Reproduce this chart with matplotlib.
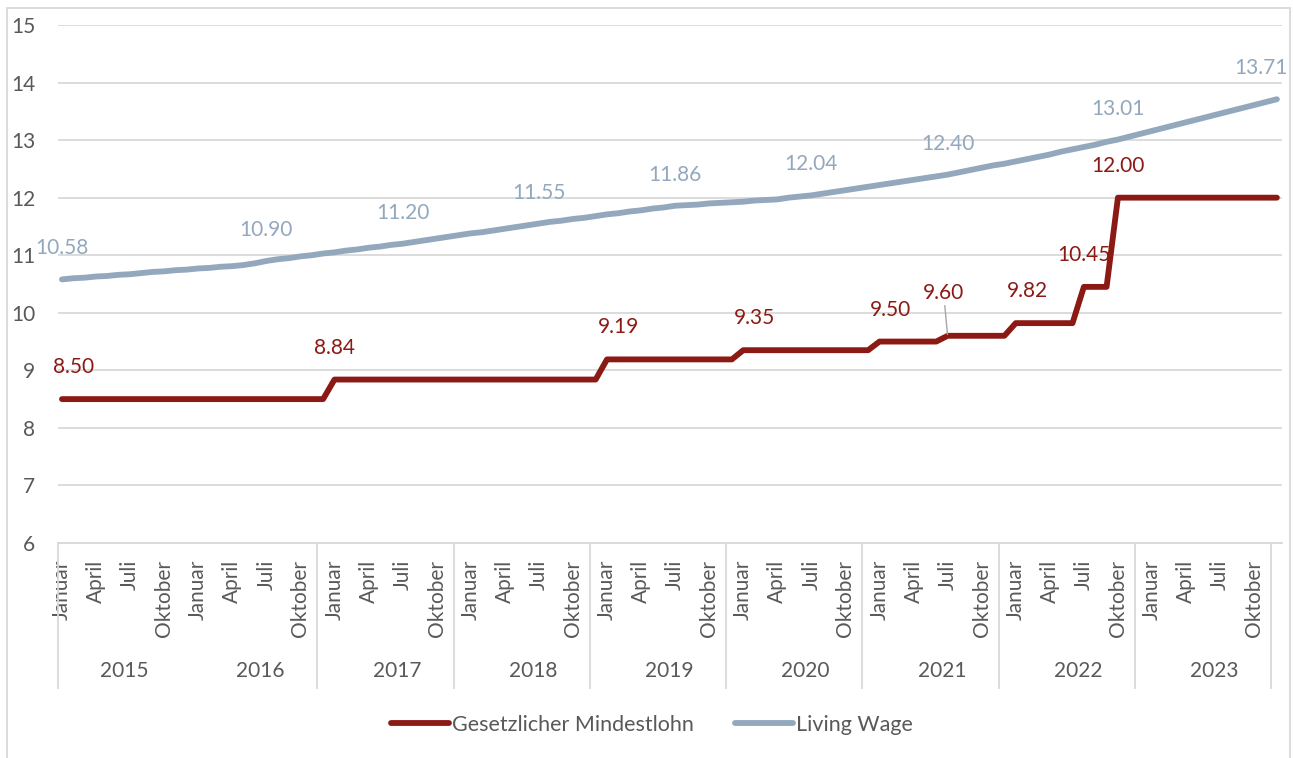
import matplotlib.pyplot as plt
from matplotlib.patches import Rectangle
import matplotlib.transforms as mtransforms


#   Settings
FONT = "Lato"
RED = "#8C1A14"
BLUE = "#93A8BD"
GRID = "#D9D9D9"
TEXT = "#595959"

YEARS = ["2015", "2016", "2017", "2018", "2019", "2020", "2021", "2022", "2023"]
MONTH_LABELS = ["Januar", "April", "Juli", "Oktober"]

# Gesetzlicher Mindestlohn, monthly Jan 2015 .. Dec 2023
min_wage = [
    8.50, 8.50, 8.50, 8.50, 8.50, 8.50, 8.50, 8.50, 8.50, 8.50, 8.50, 8.50,
    8.50, 8.50, 8.50, 8.50, 8.50, 8.50, 8.50, 8.50, 8.50, 8.50, 8.50, 8.50,
    8.84, 8.84, 8.84, 8.84, 8.84, 8.84, 8.84, 8.84, 8.84, 8.84, 8.84, 8.84,
    8.84, 8.84, 8.84, 8.84, 8.84, 8.84, 8.84, 8.84, 8.84, 8.84, 8.84, 8.84,
    9.19, 9.19, 9.19, 9.19, 9.19, 9.19, 9.19, 9.19, 9.19, 9.19, 9.19, 9.19,
    9.35, 9.35, 9.35, 9.35, 9.35, 9.35, 9.35, 9.35, 9.35, 9.35, 9.35, 9.35,
    9.50, 9.50, 9.50, 9.50, 9.50, 9.50, 9.60, 9.60, 9.60, 9.60, 9.60, 9.60,
    9.82, 9.82, 9.82, 9.82, 9.82, 9.82, 10.45, 10.45, 10.45, 12.00, 12.00, 12.00,
    12.00, 12.00, 12.00, 12.00, 12.00, 12.00, 12.00, 12.00, 12.00, 12.00, 12.00, 12.00,
]

# Living Wage, monthly
living_wage = [
    10.58, 10.60, 10.61, 10.63, 10.64, 10.66, 10.67, 10.69, 10.71, 10.72, 10.74, 10.75,
    10.77, 10.78, 10.80, 10.81, 10.83, 10.86, 10.90, 10.93, 10.95, 10.98, 11.00, 11.03,
    11.05, 11.08, 11.10, 11.13, 11.15, 11.18, 11.20, 11.23, 11.26, 11.29, 11.32, 11.35,
    11.38, 11.40, 11.43, 11.46, 11.49, 11.52, 11.55, 11.58, 11.60, 11.63, 11.65, 11.68,
    11.71, 11.73, 11.76, 11.78, 11.81, 11.83, 11.86, 11.87, 11.88, 11.90, 11.91, 11.92,
    11.93, 11.95, 11.96, 11.97, 12.00, 12.02, 12.04, 12.07, 12.10, 12.13, 12.16, 12.19,
    12.22, 12.25, 12.28, 12.31, 12.34, 12.37, 12.40, 12.44, 12.48, 12.52, 12.56, 12.59,
    12.63, 12.67, 12.71, 12.75, 12.80, 12.84, 12.88, 12.92, 12.97, 13.01, 13.06, 13.11,
    13.16, 13.21, 13.26, 13.31, 13.36, 13.41, 13.46, 13.51, 13.56, 13.61, 13.66, 13.71,
]

# months (index) that carry a data label
min_label_idx = [1, 24, 49, 61, 73, 78, 85, 90, 93]
living_label_idx = [0, 18, 30, 42, 54, 66, 78, 93, 107]


plt.rcParams['font.family'] = [FONT, 'DejaVu Sans']

fig = plt.figure(figsize=(12.93, 7.58), dpi=100)
W, H = 1293, 758
ax = fig.add_axes([58 / W, 1 - 543 / H, (1282 - 58) / W, (543 - 25) / H])

x = list(range(len(min_wage)))
ax.plot(x, min_wage, color=RED, lw=4.2, solid_capstyle='round',
        solid_joinstyle='round', label="Gesetzlicher Mindestlohn", zorder=3)
ax.plot(x, living_wage, color=BLUE, lw=4.2, solid_capstyle='round',
        solid_joinstyle='round', label="Living Wage", zorder=3)

ax.set_xlim(-0.35, 107.45)
ax.set_ylim(6, 15)
ax.set_yticks(range(6, 16))
ax.grid(axis='y', color=GRID, lw=1.3)
ax.set_axisbelow(True)
for s in ['top', 'right', 'left']:
    ax.spines[s].set_visible(False)
ax.spines['bottom'].set_color(GRID)
ax.spines['bottom'].set_linewidth(1.3)
ax.tick_params(axis='y', length=0, pad=16.5, labelsize=15, labelcolor=TEXT)

# month ticks
ticks = list(range(0, 108, 3))
ax.set_xticks(ticks)
ax.set_xticklabels([MONTH_LABELS[i % 4] for i in range(len(ticks))],
                   rotation=90, ha='center', va='top')
ax.tick_params(axis='x', length=0, pad=12, labelsize=15, labelcolor=TEXT)

# year grouping
trans = mtransforms.blended_transform_factory(ax.transData, ax.transAxes)
y_sep = (543 - 688) / (543 - 25)
y_year = (543 - 671) / (543 - 25)
seps = [-0.35] + [12 * k - 1.5 for k in range(2, 10)]
for sx in seps:
    ax.plot([sx, sx], [0, y_sep], color=GRID, lw=1.3, transform=trans,
            clip_on=False)
for k, yr in enumerate(YEARS):
    ax.text(12 * k + 5.5, y_year, yr, transform=trans, ha='center',
            va='center', fontsize=15, color=TEXT)

# data labels
for i in min_label_idx:
    dx, dy = 0, 32
    kw = {}
    if i == 78:
        dx, dy = -4, 43
        kw = dict(arrowprops=dict(arrowstyle='-', color='#A6A6A6', lw=1,
                                  shrinkA=0, shrinkB=1))
    ax.annotate(f"{min_wage[i]:.2f}", (i, min_wage[i]), xytext=(dx, dy),
                textcoords='offset pixels', ha='center', va='center',
                fontsize=15, color=RED, zorder=4, **kw)
for i in living_label_idx:
    dx = -16 if i == 107 else 0
    ax.annotate(f"{living_wage[i]:.2f}", (i, living_wage[i]), xytext=(dx, 31),
                textcoords='offset pixels', ha='center', va='center',
                fontsize=15, color=BLUE, zorder=4)

fig.legend(loc='center', bbox_to_anchor=(652 / W, 1 - 725 / H), ncol=2,
           frameon=False, fontsize=15.5, handlelength=2.7, handletextpad=0.15,
           columnspacing=1.9, labelcolor=TEXT)

fig.patches.append(Rectangle((7 / W, -0.01), (1290 - 7) / W, 1 - 8 / H + 0.01,
                             transform=fig.transFigure, fill=False,
                             edgecolor=GRID, lw=1.3))

fig.savefig("out.png", dpi=100)
